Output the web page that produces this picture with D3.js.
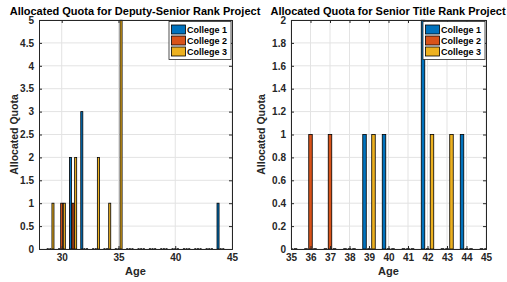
<!DOCTYPE html>
<html>
<head>
<meta charset="utf-8">
<script src="https://cdn.jsdelivr.net/npm/d3@7"></script>
<style>
body { margin: 0; background: #fff; }
svg { font-family: "Liberation Sans", Arial, sans-serif; font-weight: bold; }
.tick text { font-size: 10px; font-weight: bold; fill: #262626; }
</style>
</head>
<body>
<svg id="chart" width="507" height="282"></svg>
<script>
// data
var colleges = ["College 1", "College 2", "College 3"];
var colors = ["#0072BD", "#D95319", "#EDB120"];

// deputy-senior rank project
var deputyAges = [29, 30, 31, 32, 33, 34, 35, 36, 37, 38, 39, 40, 41, 42, 43, 44];
var deputyC1 = [0, 0, 2, 3, 0, 0, 0, 0, 0, 0, 0, 0, 0, 0, 0, 1];
var deputyC2 = [0, 1, 1, 0, 0, 0, 0, 0, 0, 0, 0, 0, 0, 0, 0, 0];
var deputyC3 = [1, 1, 2, 0, 2, 1, 5, 0, 0, 0, 0, 0, 0, 0, 0, 0];
var deputyXTicks = [30, 35, 40, 45];
var deputyYTicks = [0, 0.5, 1, 1.5, 2, 2.5, 3, 3.5, 4, 4.5, 5];

// senior title rank project
var seniorAges = [35, 36, 37, 38, 39, 40, 41, 42, 43, 44, 45];
var seniorC1 = [0, 0, 0, 0, 1, 1, 0, 2, 0, 1, 0];
var seniorC2 = [0, 1, 1, 0, 0, 0, 0, 0, 0, 0, 0];
var seniorC3 = [0, 0, 0, 0, 1, 0, 0, 1, 1, 0, 0];
var seniorXTicks = [35, 36, 37, 38, 39, 40, 41, 42, 43, 44, 45];
var seniorYTicks = [0, 0.2, 0.4, 0.6, 0.8, 1, 1.2, 1.4, 1.6, 1.8, 2];

var svg = d3.select("#chart");
var axisColor = "#262626";
var fmt = d3.format("~g");

function drawPanel(opt) {
	var x = d3.scaleLinear().domain(opt.xlim).range([opt.left, opt.right]);
	var y = d3.scaleLinear().domain(opt.ylim).range([opt.bottom, opt.top]);
	var g = svg.append("g");

	// grid lines
	g.selectAll(".gx").data(opt.xticks).enter().append("line")
		.attr("x1", function(d) { return x(d); })
		.attr("x2", function(d) { return x(d); })
		.attr("y1", opt.top).attr("y2", opt.bottom)
		.attr("stroke", "#e3e3e3").attr("stroke-width", 1);
	g.selectAll(".gy").data(opt.yticks).enter().append("line")
		.attr("x1", opt.left).attr("x2", opt.right)
		.attr("y1", function(d) { return y(d); })
		.attr("y2", function(d) { return y(d); })
		.attr("stroke", "#e3e3e3").attr("stroke-width", 1);

	// bars, grouped by college
	var offsets = [-0.23, 0, 0.23];
	var bw = 0.18;
	var clip = "clip" + opt.id;
	svg.append("clipPath").attr("id", clip).append("rect")
		.attr("x", opt.left).attr("y", opt.top - 0.5)
		.attr("width", opt.right - opt.left).attr("height", opt.bottom - opt.top + 1);
	var bars = g.append("g").attr("clip-path", "url(#" + clip + ")");
	opt.series.forEach(function(vals, k) {
		var data = opt.ages.map(function(a, i) { return {age: a, v: vals[i]}; });
		bars.selectAll(".b" + k).data(data.filter(function(d) { return d.v > 0; }))
			.enter().append("rect")
			.attr("x", function(d) { return x(d.age + offsets[k] - bw / 2); })
			.attr("width", function(d) { return x(d.age + offsets[k] + bw / 2) - x(d.age + offsets[k] - bw / 2); })
			.attr("y", function(d) { return y(d.v); })
			.attr("height", function(d) { return y(0) - y(d.v); })
			.attr("fill", colors[k])
			.attr("stroke", "#000").attr("stroke-width", 0.8);
		// zero height bars show as dashes on the baseline
		bars.selectAll(".z" + k).data(data.filter(function(d) { return d.v === 0; }))
			.enter().append("line")
			.attr("x1", function(d) { return x(d.age + offsets[k] - bw / 2); })
			.attr("x2", function(d) { return x(d.age + offsets[k] + bw / 2); })
			.attr("y1", y(0)).attr("y2", y(0))
			.attr("stroke", "#000").attr("stroke-width", 1.5);
	});

	// axes
	g.append("g")
		.attr("transform", "translate(0," + opt.bottom + ")")
		.call(d3.axisBottom(x).tickValues(opt.xticks).tickSize(-3).tickPadding(5).tickFormat(fmt));
	g.append("g")
		.attr("transform", "translate(" + opt.left + ",0)")
		.call(d3.axisLeft(y).tickValues(opt.yticks).tickSize(-3).tickPadding(5).tickFormat(fmt));
	g.append("g")
		.attr("transform", "translate(0," + opt.top + ")")
		.call(d3.axisTop(x).tickValues(opt.xticks).tickSize(-3).tickFormat(""));
	g.append("g")
		.attr("transform", "translate(" + opt.right + ",0)")
		.call(d3.axisRight(y).tickValues(opt.yticks).tickSize(-3).tickFormat(""));
	g.selectAll(".domain").attr("stroke", axisColor);
	g.selectAll(".tick line").attr("stroke", axisColor);

	// title and labels
	svg.append("text")
		.attr("x", opt.titleX).attr("y", 15)
		.attr("text-anchor", "middle")
		.style("font-size", "11px")
		.text(opt.title);
	svg.append("text")
		.attr("x", (opt.left + opt.right) / 2).attr("y", 275)
		.attr("text-anchor", "middle")
		.style("font-size", "11px").attr("fill", axisColor)
		.text("Age");
	svg.append("text")
		.attr("transform", "translate(" + opt.ylabelX + "," + (opt.top + opt.bottom) / 2 + ") rotate(-90)")
		.attr("text-anchor", "middle")
		.style("font-size", "10.5px").attr("fill", axisColor)
		.text("Allocated Quota");

	// legend
	var lg = svg.append("g").attr("transform", "translate(" + opt.legendX + ",21.5)");
	lg.append("rect").attr("width", 62).attr("height", 38)
		.attr("fill", "#fff").attr("stroke", axisColor).attr("stroke-width", 0.8);
	colleges.forEach(function(c, k) {
		lg.append("rect")
			.attr("x", 2.5).attr("y", 3.5 + k * 11)
			.attr("width", 14).attr("height", 9)
			.attr("fill", colors[k]).attr("stroke", "#000").attr("stroke-width", 0.8);
		lg.append("text")
			.attr("x", 18).attr("y", 11.5 + k * 11)
			.style("font-size", "9px").attr("fill", "#000")
			.text(c);
	});
}

drawPanel({
	id: "a", left: 39, right: 232, top: 20, bottom: 249,
	xlim: [28, 45], ylim: [0, 5],
	xticks: deputyXTicks, yticks: deputyYTicks,
	ages: deputyAges, series: [deputyC1, deputyC2, deputyC3],
	title: "Allocated Quota for Deputy-Senior Rank Project", titleX: 135,
	ylabelX: 18, legendX: 169
});

drawPanel({
	id: "b", left: 291, right: 486, top: 20, bottom: 249,
	xlim: [35, 45], ylim: [0, 2],
	xticks: seniorXTicks, yticks: seniorYTicks,
	ages: seniorAges, series: [seniorC1, seniorC2, seniorC3],
	title: "Allocated Quota for Senior Title Rank Project", titleX: 388,
	ylabelX: 265, legendX: 423
});
</script>
</body>
</html>
